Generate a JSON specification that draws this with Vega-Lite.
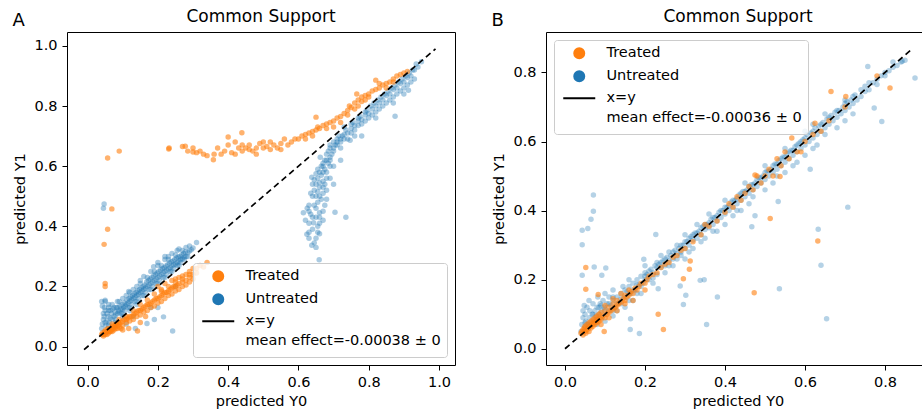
{
"$schema": "https://vega.github.io/schema/vega-lite/v6.json",
"padding": {"left": 12, "top": 7, "right": 0, "bottom": 0},
"config": {
  "font": "DejaVu Sans",
  "view": {"stroke": "black", "strokeWidth": 1},
  "axis": {"grid": false, "domain": false, "tickColor": "black", "tickSize": 5, "tickWidth": 1, "labelFontSize": 14.5, "labelColor": "black", "labelPadding": 5, "titleFontSize": 14.5, "titleFontWeight": "normal", "titleColor": "black", "titlePadding": 6, "labelFlush": false},
  "title": {"fontSize": 17, "fontWeight": "normal", "color": "black"},
  "legend": {"fillColor": "rgba(255,255,255,0.8)", "strokeColor": "#cccccc", "cornerRadius": 3, "padding": 6, "labelFontSize": 14.5, "labelColor": "black", "labelLimit": 0, "rowPadding": 4, "symbolSize": 100, "symbolOpacity": 1, "symbolOffset": 12, "labelOffset": 20, "offset": 8}
},
"datasets": {
"aT": [
{"x":0.04,"y":0.04},{"x":0.042,"y":0.045},{"x":0.045,"y":0.04},{"x":0.048,"y":0.05},{"x":0.05,"y":0.045},{"x":0.052,"y":0.055},{"x":0.055,"y":0.05},{"x":0.058,"y":0.06},{"x":0.06,"y":0.055},{"x":0.062,"y":0.05},{"x":0.065,"y":0.06},{"x":0.068,"y":0.055},{"x":0.07,"y":0.065},{"x":0.072,"y":0.06},{"x":0.075,"y":0.07},{"x":0.078,"y":0.065},{"x":0.08,"y":0.07},{"x":0.082,"y":0.075},{"x":0.085,"y":0.07},{"x":0.088,"y":0.08},{"x":0.09,"y":0.075},{"x":0.095,"y":0.08},{"x":0.1,"y":0.085},{"x":0.105,"y":0.09},{"x":0.11,"y":0.09},{"x":0.115,"y":0.095},{"x":0.12,"y":0.1},{"x":0.125,"y":0.1},{"x":0.13,"y":0.105},{"x":0.135,"y":0.11},{"x":0.14,"y":0.115},{"x":0.145,"y":0.12},{"x":0.15,"y":0.12},{"x":0.155,"y":0.125},{"x":0.16,"y":0.13},{"x":0.165,"y":0.135},{"x":0.17,"y":0.14},{"x":0.175,"y":0.14},{"x":0.18,"y":0.145},{"x":0.185,"y":0.15},{"x":0.19,"y":0.155},{"x":0.195,"y":0.16},{"x":0.2,"y":0.16},{"x":0.205,"y":0.165},{"x":0.21,"y":0.17},{"x":0.215,"y":0.175},{"x":0.22,"y":0.18},{"x":0.225,"y":0.18},{"x":0.23,"y":0.185},{"x":0.235,"y":0.19},{"x":0.24,"y":0.195},{"x":0.245,"y":0.2},{"x":0.25,"y":0.2},{"x":0.255,"y":0.205},{"x":0.26,"y":0.21},{"x":0.27,"y":0.215},{"x":0.28,"y":0.22},{"x":0.29,"y":0.23},{"x":0.3,"y":0.24},{"x":0.31,"y":0.245},{"x":0.2,"y":0.2},{"x":0.22,"y":0.21},{"x":0.24,"y":0.22},{"x":0.26,"y":0.23},{"x":0.28,"y":0.24},{"x":0.25,"y":0.225},{"x":0.27,"y":0.235},{"x":0.29,"y":0.25},{"x":0.3,"y":0.26},{"x":0.34,"y":0.28},{"x":0.32,"y":0.27},{"x":0.21,"y":0.19},{"x":0.19,"y":0.175},{"x":0.17,"y":0.155},{"x":0.15,"y":0.14},{"x":0.13,"y":0.12},{"x":0.11,"y":0.1},{"x":0.09,"y":0.09},{"x":0.07,"y":0.075},{"x":0.1,"y":0.055},{"x":0.117,"y":0.06},{"x":0.142,"y":0.052},{"x":0.095,"y":0.06},{"x":0.165,"y":0.1},{"x":0.15,"y":0.08},
{"x":0.045,"y":0.035},{"x":0.05,"y":0.04},{"x":0.055,"y":0.04},{"x":0.06,"y":0.045},{"x":0.065,"y":0.05},{"x":0.07,"y":0.05},{"x":0.075,"y":0.055},{"x":0.08,"y":0.06},{"x":0.085,"y":0.06},{"x":0.09,"y":0.065},{"x":0.1,"y":0.07},{"x":0.11,"y":0.08},{"x":0.12,"y":0.085},{"x":0.13,"y":0.09},{"x":0.14,"y":0.1},{"x":0.15,"y":0.105},{"x":0.16,"y":0.115},{"x":0.17,"y":0.12},{"x":0.18,"y":0.13},{"x":0.19,"y":0.135},{"x":0.2,"y":0.145},{"x":0.21,"y":0.15},{"x":0.22,"y":0.16},{"x":0.23,"y":0.17},{"x":0.24,"y":0.175},{"x":0.25,"y":0.185},{"x":0.26,"y":0.19},{"x":0.27,"y":0.2},{"x":0.28,"y":0.205},{"x":0.29,"y":0.215},{"x":0.3,"y":0.225},{"x":0.21,"y":0.185},{"x":0.23,"y":0.2},{"x":0.25,"y":0.215},{"x":0.27,"y":0.225},{"x":0.29,"y":0.24},{"x":0.31,"y":0.26},{"x":0.33,"y":0.265},
{"x":0.05,"y":0.21},{"x":0.05,"y":0.2},{"x":0.047,"y":0.34},{"x":0.057,"y":0.39},{"x":0.069,"y":0.458},{"x":0.057,"y":0.627},{"x":0.09,"y":0.65},
{"x":0.231,"y":0.657},{"x":0.232,"y":0.66},{"x":0.27,"y":0.665},{"x":0.278,"y":0.666},{"x":0.285,"y":0.65},{"x":0.3,"y":0.647},{"x":0.31,"y":0.645},{"x":0.32,"y":0.65},{"x":0.33,"y":0.64},{"x":0.358,"y":0.621},{"x":0.37,"y":0.66},{"x":0.38,"y":0.64},{"x":0.39,"y":0.65},{"x":0.4,"y":0.697},{"x":0.4,"y":0.67},{"x":0.41,"y":0.645},{"x":0.42,"y":0.64},{"x":0.43,"y":0.66},{"x":0.439,"y":0.711},{"x":0.44,"y":0.65},{"x":0.45,"y":0.66},{"x":0.46,"y":0.67},{"x":0.47,"y":0.65},{"x":0.48,"y":0.66},{"x":0.49,"y":0.675},{"x":0.5,"y":0.66},{"x":0.51,"y":0.665},{"x":0.52,"y":0.68},{"x":0.53,"y":0.67},{"x":0.54,"y":0.66},{"x":0.55,"y":0.675},{"x":0.56,"y":0.69},{"x":0.57,"y":0.67},{"x":0.58,"y":0.68},{"x":0.59,"y":0.69},{"x":0.55,"y":0.655},{"x":0.52,"y":0.655},{"x":0.5,"y":0.68},{"x":0.48,"y":0.64},{"x":0.46,"y":0.655},{"x":0.44,"y":0.67},{"x":0.42,"y":0.68},{"x":0.36,"y":0.64},{"x":0.34,"y":0.635},{"x":0.3,"y":0.66},
{"x":0.6,"y":0.69},{"x":0.61,"y":0.7},{"x":0.62,"y":0.705},{"x":0.63,"y":0.71},{"x":0.64,"y":0.715},{"x":0.65,"y":0.72},{"x":0.655,"y":0.73},{"x":0.66,"y":0.725},{"x":0.67,"y":0.735},{"x":0.68,"y":0.74},{"x":0.69,"y":0.745},{"x":0.7,"y":0.75},{"x":0.71,"y":0.76},{"x":0.72,"y":0.765},{"x":0.73,"y":0.775},{"x":0.74,"y":0.785},{"x":0.75,"y":0.795},{"x":0.76,"y":0.81},{"x":0.77,"y":0.82},{"x":0.78,"y":0.83},{"x":0.79,"y":0.835},{"x":0.8,"y":0.84},{"x":0.81,"y":0.85},{"x":0.82,"y":0.855},{"x":0.83,"y":0.86},{"x":0.84,"y":0.87},{"x":0.85,"y":0.875},{"x":0.86,"y":0.88},{"x":0.87,"y":0.89},{"x":0.88,"y":0.9},{"x":0.89,"y":0.905},{"x":0.9,"y":0.91},{"x":0.91,"y":0.915},{"x":0.65,"y":0.763},{"x":0.766,"y":0.84},{"x":0.82,"y":0.886},{"x":0.7,"y":0.73},{"x":0.72,"y":0.745},{"x":0.74,"y":0.77},{"x":0.76,"y":0.79},{"x":0.78,"y":0.815},{"x":0.8,"y":0.83},{"x":0.62,"y":0.69},{"x":0.64,"y":0.7},{"x":0.68,"y":0.725},{"x":0.745,"y":0.8},{"x":0.77,"y":0.8},{"x":0.79,"y":0.82},{"x":0.83,"y":0.875},{"x":0.85,"y":0.86},{"x":0.87,"y":0.88}
],
"aU": [
{"x":0.04,"y":0.06},{"x":0.042,"y":0.075},{"x":0.045,"y":0.09},{"x":0.045,"y":0.11},{"x":0.048,"y":0.13},{"x":0.05,"y":0.15},{"x":0.047,"y":0.1},{"x":0.052,"y":0.07},{"x":0.055,"y":0.085},{"x":0.058,"y":0.1},{"x":0.06,"y":0.12},{"x":0.062,"y":0.08},{"x":0.065,"y":0.095},{"x":0.068,"y":0.11},{"x":0.07,"y":0.09},{"x":0.072,"y":0.125},{"x":0.075,"y":0.1},{"x":0.078,"y":0.115},{"x":0.08,"y":0.105},{"x":0.082,"y":0.13},{"x":0.085,"y":0.11},{"x":0.088,"y":0.12},{"x":0.09,"y":0.115},{"x":0.092,"y":0.135},{"x":0.095,"y":0.125},{"x":0.098,"y":0.14},{"x":0.1,"y":0.125},{"x":0.103,"y":0.13},{"x":0.105,"y":0.145},{"x":0.108,"y":0.135},{"x":0.11,"y":0.14},{"x":0.112,"y":0.155},{"x":0.115,"y":0.145},{"x":0.118,"y":0.16},{"x":0.12,"y":0.15},{"x":0.123,"y":0.165},{"x":0.125,"y":0.155},{"x":0.128,"y":0.17},{"x":0.13,"y":0.16},{"x":0.133,"y":0.175},{"x":0.135,"y":0.165},{"x":0.138,"y":0.18},{"x":0.14,"y":0.17},{"x":0.143,"y":0.185},{"x":0.145,"y":0.175},{"x":0.148,"y":0.19},{"x":0.15,"y":0.18},{"x":0.153,"y":0.195},{"x":0.155,"y":0.185},{"x":0.158,"y":0.2},{"x":0.16,"y":0.19},{"x":0.163,"y":0.205},{"x":0.165,"y":0.195},{"x":0.168,"y":0.215},{"x":0.17,"y":0.2},{"x":0.173,"y":0.22},{"x":0.175,"y":0.205},{"x":0.178,"y":0.225},{"x":0.18,"y":0.21},{"x":0.183,"y":0.23},{"x":0.185,"y":0.215},{"x":0.188,"y":0.235},{"x":0.19,"y":0.22},{"x":0.193,"y":0.24},{"x":0.195,"y":0.225},{"x":0.198,"y":0.245},{"x":0.2,"y":0.23},{"x":0.203,"y":0.25},{"x":0.205,"y":0.235},{"x":0.208,"y":0.255},{"x":0.21,"y":0.24},{"x":0.213,"y":0.26},{"x":0.215,"y":0.245},{"x":0.218,"y":0.262},{"x":0.22,"y":0.25},{"x":0.223,"y":0.268},{"x":0.225,"y":0.255},{"x":0.228,"y":0.272},{"x":0.23,"y":0.258},{"x":0.233,"y":0.278},{"x":0.235,"y":0.262},{"x":0.238,"y":0.282},{"x":0.24,"y":0.268},{"x":0.243,"y":0.285},{"x":0.245,"y":0.272},{"x":0.248,"y":0.29},{"x":0.25,"y":0.275},{"x":0.253,"y":0.295},{"x":0.255,"y":0.28},{"x":0.258,"y":0.298},{"x":0.26,"y":0.285},{"x":0.263,"y":0.3},{"x":0.265,"y":0.29},{"x":0.268,"y":0.305},{"x":0.27,"y":0.292},{"x":0.273,"y":0.31},{"x":0.275,"y":0.298},{"x":0.278,"y":0.315},{"x":0.28,"y":0.3},{"x":0.285,"y":0.312},{"x":0.29,"y":0.318},{"x":0.295,"y":0.322},{"x":0.3,"y":0.328},{"x":0.31,"y":0.346},{"x":0.255,"y":0.32},{"x":0.24,"y":0.31},{"x":0.22,"y":0.29},{"x":0.2,"y":0.27},{"x":0.18,"y":0.25},{"x":0.16,"y":0.233},{"x":0.188,"y":0.266},{"x":0.14,"y":0.2},{"x":0.12,"y":0.18},{"x":0.117,"y":0.183},{"x":0.1,"y":0.16},{"x":0.085,"y":0.15},{"x":0.07,"y":0.14},{"x":0.06,"y":0.13},{"x":0.05,"y":0.12},{"x":0.05,"y":0.154},{"x":0.06,"y":0.14},
{"x":0.06,"y":0.07},{"x":0.08,"y":0.09},{"x":0.1,"y":0.11},{"x":0.12,"y":0.13},{"x":0.14,"y":0.15},{"x":0.16,"y":0.17},{"x":0.18,"y":0.19},{"x":0.2,"y":0.21},{"x":0.22,"y":0.23},{"x":0.24,"y":0.25},{"x":0.26,"y":0.27},
{"x":0.05,"y":0.08},{"x":0.055,"y":0.11},{"x":0.065,"y":0.12},{"x":0.075,"y":0.13},{"x":0.085,"y":0.13},{"x":0.095,"y":0.11},{"x":0.105,"y":0.12},{"x":0.115,"y":0.13},{"x":0.125,"y":0.14},{"x":0.135,"y":0.15},{"x":0.145,"y":0.16},{"x":0.155,"y":0.17},{"x":0.165,"y":0.18},{"x":0.175,"y":0.19},{"x":0.185,"y":0.2},{"x":0.195,"y":0.21},{"x":0.205,"y":0.22},{"x":0.215,"y":0.23},{"x":0.225,"y":0.24},{"x":0.235,"y":0.25},{"x":0.245,"y":0.26},{"x":0.255,"y":0.27},{"x":0.265,"y":0.28},{"x":0.275,"y":0.29},{"x":0.285,"y":0.3},{"x":0.17,"y":0.23},{"x":0.19,"y":0.25},{"x":0.21,"y":0.27},{"x":0.23,"y":0.29},{"x":0.25,"y":0.305},{"x":0.27,"y":0.32},{"x":0.29,"y":0.335},{"x":0.15,"y":0.21},{"x":0.13,"y":0.19},{"x":0.11,"y":0.17},{"x":0.09,"y":0.15},{"x":0.2,"y":0.28},{"x":0.23,"y":0.3},{"x":0.26,"y":0.325},{"x":0.28,"y":0.33},{"x":0.22,"y":0.3},{"x":0.15,"y":0.22},{"x":0.12,"y":0.12},{"x":0.14,"y":0.14},{"x":0.1,"y":0.1},{"x":0.08,"y":0.08},
{"x":0.216,"y":0.099},{"x":0.242,"y":0.052},{"x":0.19,"y":0.09},{"x":0.169,"y":0.077},{"x":0.136,"y":0.06},{"x":0.11,"y":0.075},{"x":0.13,"y":0.1},{"x":0.2,"y":0.13},{"x":0.25,"y":0.2},{"x":0.18,"y":0.13},
{"x":0.047,"y":0.474},{"x":0.045,"y":0.46},{"x":0.04,"y":0.15},{"x":0.042,"y":0.135},
{"x":0.659,"y":0.289},{"x":0.638,"y":0.337},{"x":0.645,"y":0.345},{"x":0.65,"y":0.36},{"x":0.624,"y":0.374},{"x":0.63,"y":0.38},{"x":0.66,"y":0.375},{"x":0.64,"y":0.39},{"x":0.655,"y":0.4},{"x":0.643,"y":0.412},{"x":0.62,"y":0.42},{"x":0.67,"y":0.42},{"x":0.614,"y":0.445},{"x":0.635,"y":0.44},{"x":0.66,"y":0.445},{"x":0.704,"y":0.447},{"x":0.735,"y":0.43},{"x":0.65,"y":0.46},{"x":0.63,"y":0.47},{"x":0.675,"y":0.47},{"x":0.655,"y":0.48},{"x":0.64,"y":0.5},{"x":0.66,"y":0.5},{"x":0.67,"y":0.51},{"x":0.645,"y":0.52},{"x":0.68,"y":0.52},{"x":0.66,"y":0.53},{"x":0.65,"y":0.54},{"x":0.638,"y":0.563},{"x":0.67,"y":0.55},{"x":0.655,"y":0.56},{"x":0.665,"y":0.57},{"x":0.68,"y":0.56},{"x":0.66,"y":0.58},{"x":0.675,"y":0.59},{"x":0.665,"y":0.6},{"x":0.69,"y":0.6},{"x":0.67,"y":0.61},{"x":0.68,"y":0.62},{"x":0.662,"y":0.63},{"x":0.69,"y":0.63},{"x":0.68,"y":0.64},{"x":0.7,"y":0.65},{"x":0.69,"y":0.66},{"x":0.71,"y":0.67},{"x":0.7,"y":0.68},{"x":0.72,"y":0.69},{"x":0.715,"y":0.7},{"x":0.73,"y":0.705},{"x":0.74,"y":0.71},{"x":0.735,"y":0.72},{"x":0.75,"y":0.725},{"x":0.76,"y":0.735},{"x":0.755,"y":0.745},{"x":0.77,"y":0.75},{"x":0.78,"y":0.755},{"x":0.775,"y":0.765},{"x":0.79,"y":0.77},{"x":0.8,"y":0.775},{"x":0.795,"y":0.785},{"x":0.81,"y":0.79},{"x":0.82,"y":0.8},{"x":0.815,"y":0.81},{"x":0.83,"y":0.81},{"x":0.84,"y":0.82},{"x":0.835,"y":0.83},{"x":0.85,"y":0.835},{"x":0.86,"y":0.84},{"x":0.855,"y":0.85},{"x":0.87,"y":0.855},{"x":0.88,"y":0.86},{"x":0.875,"y":0.87},{"x":0.89,"y":0.875},{"x":0.9,"y":0.88},{"x":0.895,"y":0.89},{"x":0.91,"y":0.895},{"x":0.92,"y":0.9},{"x":0.915,"y":0.91},{"x":0.93,"y":0.92},{"x":0.94,"y":0.93},{"x":0.935,"y":0.94},{"x":0.95,"y":0.947},
{"x":0.64,"y":0.43},{"x":0.65,"y":0.43},{"x":0.66,"y":0.41},{"x":0.63,"y":0.45},{"x":0.645,"y":0.47},{"x":0.665,"y":0.49},{"x":0.65,"y":0.5},{"x":0.635,"y":0.51},{"x":0.655,"y":0.515},{"x":0.67,"y":0.53},{"x":0.64,"y":0.54},{"x":0.66,"y":0.545},{"x":0.675,"y":0.54},{"x":0.645,"y":0.555},{"x":0.65,"y":0.575},{"x":0.67,"y":0.58},{"x":0.68,"y":0.58},{"x":0.655,"y":0.59},{"x":0.67,"y":0.6},{"x":0.685,"y":0.61},{"x":0.675,"y":0.62},{"x":0.69,"y":0.62},{"x":0.695,"y":0.64},{"x":0.685,"y":0.65},{"x":0.7,"y":0.66},{"x":0.705,"y":0.67},{"x":0.69,"y":0.67},{"x":0.71,"y":0.68},{"x":0.72,"y":0.68},{"x":0.725,"y":0.7},{"x":0.74,"y":0.69},{"x":0.73,"y":0.69},{"x":0.75,"y":0.71},{"x":0.76,"y":0.72},{"x":0.77,"y":0.735},{"x":0.78,"y":0.74},{"x":0.79,"y":0.75},{"x":0.8,"y":0.76},{"x":0.81,"y":0.77},{"x":0.82,"y":0.78},{"x":0.83,"y":0.79},{"x":0.84,"y":0.8},{"x":0.85,"y":0.81},{"x":0.86,"y":0.82},{"x":0.87,"y":0.83},{"x":0.88,"y":0.84},{"x":0.89,"y":0.85},{"x":0.9,"y":0.86},{"x":0.91,"y":0.87},{"x":0.92,"y":0.88},{"x":0.93,"y":0.89},{"x":0.805,"y":0.8},{"x":0.825,"y":0.82},{"x":0.845,"y":0.84},{"x":0.865,"y":0.86},{"x":0.885,"y":0.88},{"x":0.905,"y":0.9},{"x":0.925,"y":0.92},{"x":0.77,"y":0.76},{"x":0.79,"y":0.78},{"x":0.75,"y":0.74},{"x":0.73,"y":0.73},{"x":0.71,"y":0.69},{"x":0.65,"y":0.33},{"x":0.63,"y":0.36},{"x":0.655,"y":0.38},{"x":0.66,"y":0.43},{"x":0.63,"y":0.41},{"x":0.625,"y":0.46},
{"x":0.747,"y":0.686},{"x":0.78,"y":0.7},{"x":0.87,"y":0.81},{"x":0.875,"y":0.766},{"x":0.82,"y":0.76},{"x":0.9,"y":0.84},{"x":0.913,"y":0.852},{"x":0.76,"y":0.7},{"x":0.72,"y":0.66},{"x":0.7,"y":0.6},{"x":0.72,"y":0.62},{"x":0.69,"y":0.56},{"x":0.7,"y":0.54},{"x":0.67,"y":0.45},{"x":0.68,"y":0.49}
],
"bT": [
{"x":0.04,"y":0.045},{"x":0.042,"y":0.05},{"x":0.045,"y":0.04},{"x":0.045,"y":0.055},{"x":0.048,"y":0.06},{"x":0.05,"y":0.05},{"x":0.05,"y":0.065},{"x":0.052,"y":0.045},{"x":0.055,"y":0.055},{"x":0.055,"y":0.07},{"x":0.058,"y":0.06},{"x":0.06,"y":0.05},{"x":0.06,"y":0.075},{"x":0.062,"y":0.065},{"x":0.065,"y":0.06},{"x":0.065,"y":0.08},{"x":0.068,"y":0.07},{"x":0.07,"y":0.065},{"x":0.07,"y":0.085},{"x":0.072,"y":0.075},{"x":0.075,"y":0.07},{"x":0.075,"y":0.09},{"x":0.078,"y":0.08},{"x":0.08,"y":0.075},{"x":0.08,"y":0.095},{"x":0.082,"y":0.085},{"x":0.085,"y":0.08},{"x":0.085,"y":0.1},{"x":0.088,"y":0.09},{"x":0.09,"y":0.085},{"x":0.09,"y":0.105},{"x":0.095,"y":0.095},{"x":0.1,"y":0.09},{"x":0.1,"y":0.11},{"x":0.105,"y":0.1},{"x":0.11,"y":0.105},{"x":0.11,"y":0.12},{"x":0.115,"y":0.11},{"x":0.12,"y":0.115},{"x":0.12,"y":0.13},{"x":0.125,"y":0.12},{"x":0.13,"y":0.125},{"x":0.13,"y":0.14},{"x":0.135,"y":0.13},{"x":0.14,"y":0.135},{"x":0.145,"y":0.145},{"x":0.15,"y":0.14},{"x":0.15,"y":0.155},{"x":0.155,"y":0.15},{"x":0.16,"y":0.155},{"x":0.165,"y":0.165},{"x":0.17,"y":0.16},{"x":0.175,"y":0.175},{"x":0.18,"y":0.17},{"x":0.185,"y":0.18},{"x":0.19,"y":0.19},{"x":0.2,"y":0.19},{"x":0.205,"y":0.2},{"x":0.21,"y":0.21},{"x":0.22,"y":0.215},{"x":0.23,"y":0.22},{"x":0.24,"y":0.235},{"x":0.25,"y":0.245},{"x":0.26,"y":0.25},{"x":0.27,"y":0.265},{"x":0.28,"y":0.27},{"x":0.29,"y":0.285},{"x":0.3,"y":0.29},{"x":0.32,"y":0.31},{"x":0.34,"y":0.33},{"x":0.36,"y":0.355},{"x":0.38,"y":0.37},{"x":0.4,"y":0.395},{"x":0.42,"y":0.41},{"x":0.44,"y":0.43},{"x":0.45,"y":0.45},{"x":0.47,"y":0.46},{"x":0.49,"y":0.48},{"x":0.5,"y":0.5},{"x":0.52,"y":0.5},{"x":0.54,"y":0.53},{"x":0.56,"y":0.55},{"x":0.58,"y":0.57},{"x":0.6,"y":0.6},{"x":0.62,"y":0.62},{"x":0.64,"y":0.63},{"x":0.66,"y":0.66},{"x":0.7,"y":0.7},{"x":0.78,"y":0.79},{"x":0.14,"y":0.16},{"x":0.16,"y":0.17},{"x":0.12,"y":0.145},{"x":0.1,"y":0.125},{"x":0.09,"y":0.07},{"x":0.11,"y":0.09},{"x":0.13,"y":0.11},{"x":0.17,"y":0.14},{"x":0.2,"y":0.17},{"x":0.15,"y":0.13},{"x":0.35,"y":0.36},{"x":0.43,"y":0.44},{"x":0.41,"y":0.42},{"x":0.51,"y":0.52},{"x":0.55,"y":0.57},{"x":0.48,"y":0.5},{"x":0.46,"y":0.47},{"x":0.53,"y":0.55},{"x":0.475,"y":0.503},{"x":0.5375,"y":0.499},{"x":0.567,"y":0.61},{"x":0.59,"y":0.57},{"x":0.625,"y":0.653},
{"x":0.052,"y":0.235},{"x":0.052,"y":0.172},{"x":0.083,"y":0.157},{"x":0.233,"y":0.1},{"x":0.246,"y":0.056},{"x":0.313,"y":0.254},{"x":0.311,"y":0.23},{"x":0.296,"y":0.203},{"x":0.513,"y":0.377},{"x":0.632,"y":0.312},{"x":0.473,"y":0.162},{"x":0.098,"y":0.05},{"x":0.665,"y":0.745},{"x":0.8125,"y":0.755},{"x":0.702,"y":0.73}
],
"bU": [
{"x":0.04,"y":0.05},{"x":0.042,"y":0.07},{"x":0.045,"y":0.09},{"x":0.045,"y":0.11},{"x":0.048,"y":0.125},{"x":0.05,"y":0.06},{"x":0.05,"y":0.1},{"x":0.052,"y":0.08},{"x":0.055,"y":0.12},{"x":0.058,"y":0.07},{"x":0.06,"y":0.09},{"x":0.06,"y":0.14},{"x":0.062,"y":0.11},{"x":0.065,"y":0.075},{"x":0.068,"y":0.1},{"x":0.07,"y":0.13},{"x":0.072,"y":0.085},{"x":0.075,"y":0.11},{"x":0.078,"y":0.095},{"x":0.08,"y":0.12},{"x":0.082,"y":0.15},{"x":0.085,"y":0.1},{"x":0.088,"y":0.13},{"x":0.09,"y":0.11},{"x":0.092,"y":0.09},{"x":0.095,"y":0.14},{"x":0.098,"y":0.12},{"x":0.1,"y":0.1},{"x":0.1,"y":0.16},{"x":0.105,"y":0.13},{"x":0.11,"y":0.11},{"x":0.11,"y":0.15},{"x":0.115,"y":0.125},{"x":0.12,"y":0.14},{"x":0.12,"y":0.17},{"x":0.125,"y":0.12},{"x":0.13,"y":0.15},{"x":0.135,"y":0.135},{"x":0.14,"y":0.16},{"x":0.14,"y":0.13},{"x":0.145,"y":0.18},{"x":0.15,"y":0.15},{"x":0.155,"y":0.165},{"x":0.16,"y":0.14},{"x":0.16,"y":0.18},{"x":0.165,"y":0.16},{"x":0.17,"y":0.19},{"x":0.175,"y":0.17},{"x":0.18,"y":0.2},{"x":0.18,"y":0.16},{"x":0.185,"y":0.185},{"x":0.19,"y":0.21},{"x":0.195,"y":0.19},{"x":0.2,"y":0.2},{"x":0.2,"y":0.22},{"x":0.205,"y":0.215},{"x":0.21,"y":0.2},{"x":0.215,"y":0.23},{"x":0.22,"y":0.22},{"x":0.225,"y":0.24},{"x":0.23,"y":0.215},{"x":0.235,"y":0.245},{"x":0.24,"y":0.235},{"x":0.245,"y":0.255},{"x":0.25,"y":0.24},{"x":0.255,"y":0.265},{"x":0.26,"y":0.255},{"x":0.265,"y":0.27},{"x":0.27,"y":0.26},{"x":0.275,"y":0.285},{"x":0.28,"y":0.275},{"x":0.285,"y":0.29},{"x":0.29,"y":0.28},{"x":0.295,"y":0.3},{"x":0.3,"y":0.29},{"x":0.305,"y":0.31},{"x":0.31,"y":0.3},{"x":0.315,"y":0.325},{"x":0.32,"y":0.315},{"x":0.325,"y":0.335},{"x":0.33,"y":0.32},{"x":0.335,"y":0.34},{"x":0.34,"y":0.33},{"x":0.345,"y":0.355},{"x":0.35,"y":0.345},{"x":0.355,"y":0.36},{"x":0.36,"y":0.35},{"x":0.365,"y":0.375},{"x":0.37,"y":0.36},{"x":0.375,"y":0.38},{"x":0.38,"y":0.37},{"x":0.385,"y":0.395},{"x":0.39,"y":0.38},{"x":0.395,"y":0.4},{"x":0.4,"y":0.39},{"x":0.405,"y":0.41},{"x":0.41,"y":0.4},{"x":0.415,"y":0.425},{"x":0.42,"y":0.41},{"x":0.425,"y":0.43},{"x":0.43,"y":0.42},{"x":0.435,"y":0.445},{"x":0.44,"y":0.43},{"x":0.445,"y":0.455},{"x":0.45,"y":0.44},{"x":0.455,"y":0.46},{"x":0.46,"y":0.45},{"x":0.465,"y":0.475},{"x":0.47,"y":0.46},{"x":0.475,"y":0.48},{"x":0.48,"y":0.47},{"x":0.485,"y":0.495},{"x":0.49,"y":0.48},{"x":0.495,"y":0.5},{"x":0.5,"y":0.49},{"x":0.505,"y":0.515},{"x":0.51,"y":0.5},{"x":0.515,"y":0.52},{"x":0.52,"y":0.51},{"x":0.525,"y":0.535},{"x":0.53,"y":0.52},{"x":0.535,"y":0.545},{"x":0.54,"y":0.53},{"x":0.545,"y":0.555},{"x":0.55,"y":0.54},{"x":0.555,"y":0.565},{"x":0.56,"y":0.55},{"x":0.565,"y":0.575},{"x":0.57,"y":0.56},{"x":0.575,"y":0.585},{"x":0.58,"y":0.57},{"x":0.585,"y":0.595},{"x":0.59,"y":0.58},{"x":0.595,"y":0.605},{"x":0.6,"y":0.59},{"x":0.605,"y":0.62},{"x":0.61,"y":0.6},{"x":0.615,"y":0.625},{"x":0.62,"y":0.61},{"x":0.625,"y":0.64},{"x":0.63,"y":0.62},{"x":0.635,"y":0.645},{"x":0.64,"y":0.63},{"x":0.645,"y":0.655},{"x":0.65,"y":0.64},{"x":0.655,"y":0.665},{"x":0.66,"y":0.65},{"x":0.665,"y":0.675},{"x":0.67,"y":0.66},{"x":0.675,"y":0.685},{"x":0.68,"y":0.67},{"x":0.685,"y":0.69},{"x":0.69,"y":0.68},{"x":0.695,"y":0.7},{"x":0.7,"y":0.69},{"x":0.705,"y":0.715},{"x":0.71,"y":0.7},{"x":0.715,"y":0.72},{"x":0.72,"y":0.71},{"x":0.725,"y":0.735},{"x":0.73,"y":0.72},{"x":0.74,"y":0.73},{"x":0.75,"y":0.745},{"x":0.76,"y":0.75},{"x":0.77,"y":0.77},{"x":0.78,"y":0.765},{"x":0.79,"y":0.79},{"x":0.8,"y":0.8},{"x":0.81,"y":0.805},{"x":0.82,"y":0.815},{"x":0.83,"y":0.82},{"x":0.84,"y":0.83},{"x":0.85,"y":0.835},
{"x":0.05,"y":0.075},{"x":0.06,"y":0.065},{"x":0.07,"y":0.1},{"x":0.08,"y":0.085},{"x":0.09,"y":0.125},{"x":0.1,"y":0.115},{"x":0.11,"y":0.13},{"x":0.12,"y":0.11},{"x":0.13,"y":0.13},{"x":0.14,"y":0.145},{"x":0.15,"y":0.17},{"x":0.16,"y":0.16},{"x":0.17,"y":0.17},{"x":0.18,"y":0.185},{"x":0.19,"y":0.18},{"x":0.2,"y":0.21},{"x":0.21,"y":0.225},{"x":0.22,"y":0.205},{"x":0.23,"y":0.235},{"x":0.24,"y":0.25},{"x":0.25,"y":0.26},{"x":0.26,"y":0.24},{"x":0.27,"y":0.28},{"x":0.28,"y":0.26},{"x":0.29,"y":0.3},{"x":0.3,"y":0.31},{"x":0.31,"y":0.32},{"x":0.32,"y":0.33},{"x":0.33,"y":0.335},{"x":0.34,"y":0.35},{"x":0.35,"y":0.36},{"x":0.36,"y":0.365},{"x":0.37,"y":0.38},{"x":0.38,"y":0.385},{"x":0.39,"y":0.4},{"x":0.4,"y":0.41},{"x":0.41,"y":0.415},{"x":0.42,"y":0.43},{"x":0.43,"y":0.435},{"x":0.44,"y":0.45},{"x":0.45,"y":0.455},{"x":0.46,"y":0.47},{"x":0.47,"y":0.475},{"x":0.48,"y":0.49},{"x":0.49,"y":0.495},{"x":0.5,"y":0.51},{"x":0.51,"y":0.515},{"x":0.52,"y":0.53},{"x":0.53,"y":0.535},{"x":0.54,"y":0.55},{"x":0.55,"y":0.555},{"x":0.56,"y":0.57},{"x":0.57,"y":0.575},{"x":0.58,"y":0.59},{"x":0.59,"y":0.6},{"x":0.6,"y":0.61},{"x":0.62,"y":0.63},{"x":0.64,"y":0.65},{"x":0.66,"y":0.67},{"x":0.68,"y":0.69},{"x":0.7,"y":0.71},{"x":0.72,"y":0.73},{"x":0.74,"y":0.75},{"x":0.76,"y":0.77},{"x":0.78,"y":0.78},{"x":0.8,"y":0.79},{"x":0.82,"y":0.83},{"x":0.27,"y":0.24},{"x":0.31,"y":0.28},{"x":0.34,"y":0.31},{"x":0.37,"y":0.34},{"x":0.43,"y":0.4},{"x":0.47,"y":0.44},{"x":0.53,"y":0.5},{"x":0.57,"y":0.53},{"x":0.63,"y":0.59},{"x":0.3,"y":0.33},{"x":0.4,"y":0.43},{"x":0.5,"y":0.53},{"x":0.62,"y":0.65},{"x":0.24,"y":0.27},{"x":0.2,"y":0.24},{"x":0.16,"y":0.2},{"x":0.12,"y":0.15},{"x":0.085,"y":0.12},
{"x":0.25,"y":0.22},{"x":0.28,"y":0.3},{"x":0.3,"y":0.26},{"x":0.32,"y":0.29},{"x":0.35,"y":0.32},{"x":0.38,"y":0.34},{"x":0.4,"y":0.36},{"x":0.42,"y":0.385},{"x":0.44,"y":0.4},{"x":0.46,"y":0.42},{"x":0.5,"y":0.46},{"x":0.52,"y":0.48},{"x":0.55,"y":0.51},{"x":0.58,"y":0.54},{"x":0.6,"y":0.56},{"x":0.62,"y":0.58},{"x":0.65,"y":0.62},{"x":0.68,"y":0.64},{"x":0.7,"y":0.66},{"x":0.72,"y":0.68},{"x":0.33,"y":0.36},{"x":0.36,"y":0.39},{"x":0.45,"y":0.48},{"x":0.55,"y":0.58},{"x":0.6,"y":0.63},{"x":0.65,"y":0.68},{"x":0.7,"y":0.72},{"x":0.75,"y":0.76},{"x":0.26,"y":0.28},{"x":0.23,"y":0.25},{"x":0.29,"y":0.27},{"x":0.15,"y":0.12},{"x":0.13,"y":0.11},{"x":0.17,"y":0.14},{"x":0.19,"y":0.16},{"x":0.22,"y":0.19},{"x":0.12,"y":0.095},{"x":0.1,"y":0.08},{"x":0.08,"y":0.07},
{"x":0.071,"y":0.398},{"x":0.065,"y":0.375},{"x":0.057,"y":0.348},{"x":0.043,"y":0.343},{"x":0.043,"y":0.301},{"x":0.043,"y":0.213},{"x":0.102,"y":0.234},{"x":0.073,"y":0.237},{"x":0.092,"y":0.213},{"x":0.227,"y":0.331},{"x":0.197,"y":0.259},{"x":0.233,"y":0.174},{"x":0.288,"y":0.182},{"x":0.302,"y":0.155},{"x":0.296,"y":0.128},{"x":0.338,"y":0.198},{"x":0.348,"y":0.2},{"x":0.354,"y":0.07},{"x":0.381,"y":0.15},{"x":0.633,"y":0.346},{"x":0.64,"y":0.242},{"x":0.536,"y":0.174},{"x":0.654,"y":0.087},{"x":0.707,"y":0.41},{"x":0.475,"y":0.385},{"x":0.467,"y":0.353},{"x":0.163,"y":0.056},{"x":0.186,"y":0.044},{"x":0.164,"y":0.087},{"x":0.071,"y":0.445},{"x":0.757,"y":0.817},{"x":0.875,"y":0.784},{"x":0.792,"y":0.658},{"x":0.773,"y":0.697},{"x":0.843,"y":0.832},{"x":0.533,"y":0.426},{"x":0.613,"y":0.52}
]
},
"hconcat": [
 {
  "title": {"text": "A", "anchor": "start", "frame": "bounds", "fontSize": 18, "offset": -22},
  "resolve": {"scale": {"color": "independent"}, "legend": {"color": "independent"}},
  "vconcat": [{
   "title": {"text": "Common Support", "offset": 6},
   "width": 388, "height": 333,
   "encoding": {
     "x": {"field": "x", "type": "quantitative", "title": "predicted Y0", "scale": {"domain": [-0.0586, 1.0455], "nice": false, "zero": false}, "axis": {"values": [0, 0.2, 0.4, 0.6, 0.8, 1.0], "format": ".1f"}},
     "y": {"field": "y", "type": "quantitative", "title": "predicted Y1", "scale": {"domain": [-0.061, 1.046], "nice": false, "zero": false}, "axis": {"values": [0, 0.2, 0.4, 0.6, 0.8, 1.0], "format": ".1f"}},
     "color": {"type": "nominal", "scale": {"domain": ["Treated", "Untreated", "x=y", "mean effect=-0.00038 ± 0"], "range": ["#ff7f0e", "#1f77b4", "#000000", "rgba(0,0,0,0)"]},
       "legend": {"title": null, "orient": "bottom-right", "encode": {"symbols": {"update": {"shape": {"signal": "datum.value === 'x=y' ? 'M-3.2,0H3.2' : 'circle'"}, "stroke": {"signal": "datum.value === 'x=y' ? '#000000' : 'transparent'"}, "strokeWidth": {"value": 2}}}}}}
   },
   "layer": [
     {"data": {"name": "aU"}, "mark": {"type": "circle", "size": 30, "opacity": 0.38}, "encoding": {"color": {"datum": "Untreated"}}},
     {"data": {"name": "aT"}, "mark": {"type": "circle", "size": 30, "opacity": 0.6}, "encoding": {"color": {"datum": "Treated"}}},
     {"data": {"values": [{"x": -0.01, "y": -0.01}, {"x": 0.99, "y": 0.99}]}, "mark": {"type": "line", "strokeDash": [6, 4], "strokeWidth": 1.7}, "encoding": {"color": {"datum": "x=y"}}}
   ]
  }]
 },
 {
  "title": {"text": "B", "anchor": "start", "frame": "bounds", "fontSize": 18, "offset": -22},
  "resolve": {"scale": {"color": "independent"}, "legend": {"color": "independent"}},
  "vconcat": [{
   "title": {"text": "Common Support", "offset": 6},
   "width": 384, "height": 333,
   "encoding": {
     "x": {"field": "x", "type": "quantitative", "title": "predicted Y0", "scale": {"domain": [-0.0475, 0.9125], "nice": false, "zero": false}, "axis": {"values": [0, 0.2, 0.4, 0.6, 0.8], "format": ".1f"}},
     "y": {"field": "y", "type": "quantitative", "title": "predicted Y1", "scale": {"domain": [-0.047, 0.917], "nice": false, "zero": false}, "axis": {"values": [0, 0.2, 0.4, 0.6, 0.8], "format": ".1f"}},
     "color": {"type": "nominal", "scale": {"domain": ["Treated", "Untreated", "x=y", "mean effect=-0.00036 ± 0"], "range": ["#ff7f0e", "#1f77b4", "#000000", "rgba(0,0,0,0)"]},
       "legend": {"title": null, "orient": "top-left", "encode": {"symbols": {"update": {"shape": {"signal": "datum.value === 'x=y' ? 'M-3.2,0H3.2' : 'circle'"}, "stroke": {"signal": "datum.value === 'x=y' ? '#000000' : 'transparent'"}, "strokeWidth": {"value": 2}}}}}}
   },
   "layer": [
     {"data": {"name": "bU"}, "mark": {"type": "circle", "size": 30, "opacity": 0.33}, "encoding": {"color": {"datum": "Untreated"}}},
     {"data": {"name": "bT"}, "mark": {"type": "circle", "size": 30, "opacity": 0.6}, "encoding": {"color": {"datum": "Treated"}}},
     {"data": {"values": [{"x": 0.0, "y": 0.0}, {"x": 0.87, "y": 0.87}]}, "mark": {"type": "line", "strokeDash": [6, 4], "strokeWidth": 1.7}, "encoding": {"color": {"datum": "x=y"}}}
   ]
  }]
 }
],
"spacing": 35,
"resolve": {"scale": {"color": "independent"}, "legend": {"color": "independent"}}
}
